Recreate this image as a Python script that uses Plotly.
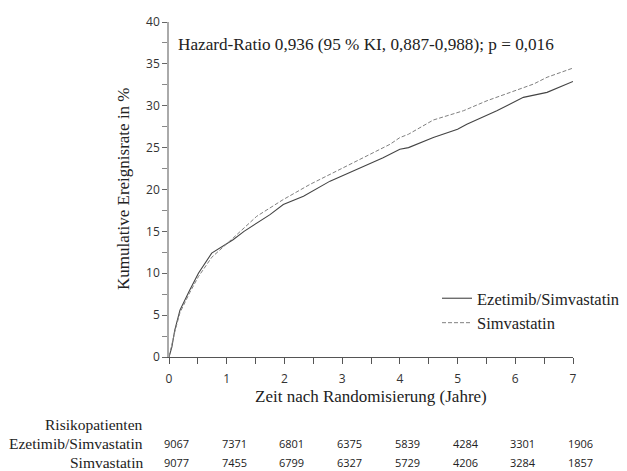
import plotly.graph_objects as go

# ---- data ----
years_eze = [0, 0.02, 0.05, 0.1, 0.19, 0.36, 0.51, 0.74, 1.0, 1.11, 1.3, 1.52, 1.75, 1.98,
             2.33, 2.79, 3.0, 3.25, 3.71, 4.0, 4.15, 4.58, 5.0, 5.16, 5.68, 6.14, 6.55, 6.95, 7.0]
rate_eze = [0, 0.6, 1.2, 3.2, 5.6, 8.0, 10.0, 12.4, 13.5, 14.0, 15.0, 16.0, 17.0, 18.2,
            19.2, 21.0, 21.6, 22.4, 23.8, 24.8, 25.0, 26.2, 27.2, 27.8, 29.4, 31.0, 31.6, 32.8, 32.9]

years_sim = [0, 0.02, 0.05, 0.1, 0.19, 0.36, 0.51, 0.74, 1.0, 1.11, 1.52, 1.98, 2.44, 2.91,
             3.37, 3.83, 4.0, 4.15, 4.58, 5.1, 5.51, 5.91, 6.32, 6.55, 6.95, 7.0]
rate_sim = [0, 0.8, 1.5, 3.0, 5.3, 7.7, 9.6, 11.9, 13.6, 14.2, 16.8, 18.8, 20.6, 22.2,
            23.8, 25.4, 26.2, 26.6, 28.3, 29.4, 30.6, 31.6, 32.6, 33.4, 34.4, 34.5]

risk_years = [0, 1, 2, 3, 4, 5, 6, 7]
risk_eze = [9067, 7371, 6801, 6375, 5839, 4284, 3301, 1906]
risk_sim = [9077, 7455, 6799, 6327, 5729, 4206, 3284, 1857]

name_eze = "Ezetimib/Simvastatin"
name_sim = "Simvastatin"
hr_text = "Hazard-Ratio 0,936 (95 % KI, 0,887-0,988); p = 0,016"
x_title = "Zeit nach Randomisierung (Jahre)"
y_title = "Kumulative Ereignisrate in %"
risk_title = "Risikopatienten"

SERIF = "Liberation Serif"
SANS = "Open Sans"

fig = go.Figure()
fig.add_trace(go.Scatter(x=years_eze, y=rate_eze, mode="lines", name=name_eze,
                         line=dict(color="#444444", width=1.1)))
fig.add_trace(go.Scatter(x=years_sim, y=rate_sim, mode="lines", name=name_sim,
                         line=dict(color="#808080", width=1.0, dash="4px,2px")))

# page body has an 8px margin: figure is placed at (8, 8) in the window
OFF = 8
W, H = 627 - OFF, 471 - OFF
L, T = 169 - OFF, 22 - OFF
R = 627 - 573
B = 471 - 357
ph = H - T - B
pw = W - L - R

def py(ypix):  # ypix in window coordinates
    return (H - B - (ypix - OFF)) / ph

def px(xpix):  # xpix in window coordinates
    return ((xpix - OFF) - L) / pw

ann = []
ann.append(dict(text=hr_text, x=px(176), y=py(44), xref="paper", yref="paper",
                xanchor="left", yanchor="middle", showarrow=False,
                font=dict(family=SERIF, size=17.2, color="#222")))
ann.append(dict(text=x_title, x=0.5, y=py(396), xref="paper", yref="paper",
                xanchor="center", yanchor="middle", showarrow=False,
                font=dict(family=SERIF, size=17, color="#222")))
ann.append(dict(text=y_title, x=px(123), y=py(189), xref="paper", yref="paper",
                xanchor="center", yanchor="middle", showarrow=False, textangle=-90,
                font=dict(family=SERIF, size=17, color="#222")))
for label, yp in [(risk_title, 424), (name_eze, 443), (name_sim, 462)]:
    ann.append(dict(text=label, x=px(145), y=py(yp), xref="paper", yref="paper",
                    xanchor="right", yanchor="middle", showarrow=False,
                    font=dict(family=SERIF, size=15.5, color="#222")))
for vals, yp in [(risk_eze, 443), (risk_sim, 462)]:
    for xv, v in zip(risk_years, vals):
        ann.append(dict(text=str(v), x=xv, y=py(yp), xref="x", yref="paper",
                        xanchor="left", yanchor="middle", showarrow=False, xshift=-7,
                        font=dict(family=SANS, size=11, color="#222")))

fig.update_layout(
    width=W, height=H,
    margin=dict(l=L, r=R, t=T, b=B, pad=0, autoexpand=False),
    paper_bgcolor="white", plot_bgcolor="white",
    showlegend=True,
    legend=dict(x=px(437), y=py(281), xanchor="left", yanchor="top",
                font=dict(family=SERIF, size=16.5, color="#222"),
                bgcolor="rgba(0,0,0,0)", itemwidth=30, tracegroupgap=0),
    annotations=ann,
    xaxis=dict(range=[0, 7], tickvals=risk_years, ticks="outside", ticklen=6,
               tickcolor="#555", showline=True, linecolor="#555", linewidth=1,
               showgrid=False, zeroline=False, ticklabelstandoff=5,
               tickfont=dict(family=SANS, size=12, color="#333"),
               minor=dict(dtick=0.5, ticks="outside", ticklen=6, tickcolor="#555")),
    yaxis=dict(range=[0, 40], dtick=5, ticks="outside", ticklen=5,
               tickcolor="#666", showline=True, linecolor="#aaaaaa", linewidth=1.5,
               showgrid=False, zeroline=False,
               tickfont=dict(family=SANS, size=12, color="#333"),
               minor=dict(dtick=2.5, ticks="outside", ticklen=5, tickcolor="#888")),
)

fig.write_html("out.html")
